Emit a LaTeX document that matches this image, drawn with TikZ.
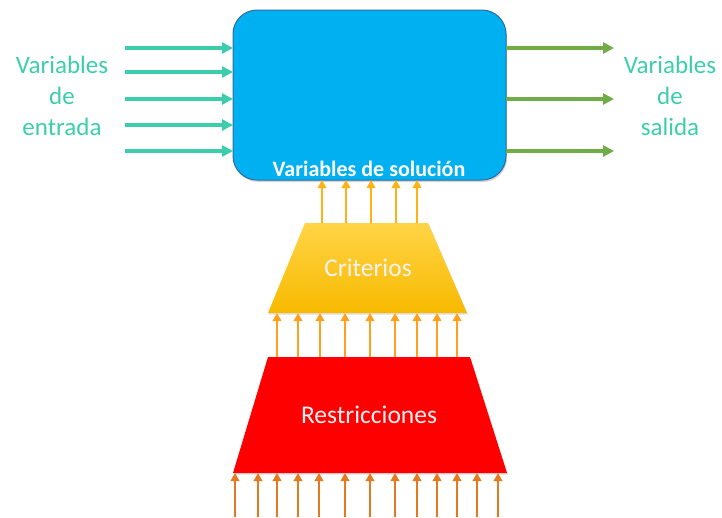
\documentclass[tikz,border=0pt]{standalone}
\usepackage{fontspec}
\setmainfont{Carlito}
\definecolor{solBlue}{RGB}{0,176,240}
\definecolor{solEdge}{RGB}{40,110,165}
\definecolor{inTeal}{RGB}{60,206,172}
\definecolor{outGreen}{RGB}{112,173,71}
\definecolor{critTop}{RGB}{255,212,70}
\definecolor{critGold}{RGB}{248,186,0}
\definecolor{critArrow}{RGB}{255,178,20}
\definecolor{midArrow}{RGB}{255,160,30}
\definecolor{restArrow}{RGB}{228,122,32}
\definecolor{restRed}{RGB}{255,0,0}
\definecolor{labelGray}{RGB}{242,242,242}
\usetikzlibrary{arrows.meta,positioning,shapes.geometric,shadows}

\begin{document}
\begin{tikzpicture}[x=1pt, y=-1pt,
    solbox/.style={rectangle, rounded corners=24pt, minimum width=273pt, minimum height=170pt,
                   draw=solEdge, line width=1pt, fill=solBlue, outer sep=0pt,
                   drop shadow={shadow xshift=1pt, shadow yshift=-2pt, opacity=0.35}},
    traptext/.style={font=\fontsize{25.5}{30}\selectfont, text=labelGray},
    sidelabel/.style={align=center, font=\fontsize{25}{31}\selectfont},
    inarr/.style={-{Triangle[length=11pt,width=11pt]}, line width=3.4pt, draw=inTeal},
    outarr/.style={-{Triangle[length=11pt,width=11pt]}, line width=3.4pt, draw=outGreen},
    uparr/.style={-{Triangle[length=8pt,width=8.5pt]}, line width=2.8pt}
  ]
  \useasboundingbox (0,0) rectangle (722,517);

  \node[solbox] (sol) at (369.5,95) {};
  \node[font=\bfseries\fontsize{22}{26}\selectfont, text=white] (solLabel) at (369,169) {Variables de solución};

  % trapezoids
  \coordinate (critTL) at (305,223);
  \coordinate (critTR) at (428,223);
  \coordinate (critBL) at (268,313);
  \coordinate (critBR) at (467,313);
  \shade[top color=critTop, bottom color=critGold, drop shadow={shadow xshift=1pt, shadow yshift=-1.5pt, opacity=0.25}]
    (critBL) -- (critBR) -- (critTR) -- (critTL) -- cycle;
  \node[traptext] (crit) at (368,268) {Criterios};

  \coordinate (restTL) at (268,357);
  \coordinate (restTR) at (470,357);
  \coordinate (restBL) at (233,473);
  \coordinate (restBR) at (507,473);
  \fill[restRed, drop shadow={shadow xshift=1pt, shadow yshift=-1.5pt, opacity=0.25}]
    (restBL) -- (restBR) -- (restTR) -- (restTL) -- cycle;
  \node[traptext] (restr) at (369,415) {Restricciones};

  \node[sidelabel, text=inTeal] (entrada) at (62,96) {Variables\\de\\entrada};
  \node[sidelabel, text=inTeal] (salida) at (670,96) {Variables\\de\\salida};

  \coordinate (inStart) at (125,0);
  \coordinate (outEnd) at (614,0);
  \coordinate (base) at (0,517);

  % inputs and outputs
  \foreach \y in {48,72,99,125,151}
    \draw[inarr] (inStart |- 0,\y) -- (sol.west |- 0,\y);
  \foreach \y in {48,99,151}
    \draw[outarr] (sol.east |- 0,\y) -- (outEnd |- 0,\y);

  % criterios -> solucion
  \foreach \x in {322,346,371,396,417}
    \draw[uparr, draw=critArrow] (\x,0 |- critTL) -- (\x,0 |- sol.south);
  % restricciones -> criterios
  \foreach \x in {277,298,320,345,370,395,417,437,457}
    \draw[uparr, draw=midArrow] (\x,0 |- restTL) -- (\x,0 |- critBL);
  % base -> restricciones
  \foreach \x in {235,258,277,298,319,345,370,395,417,437,457,477,498}
    \draw[uparr, draw=restArrow] (\x,0 |- base) -- (\x,0 |- restBL);
\end{tikzpicture}
\end{document}
